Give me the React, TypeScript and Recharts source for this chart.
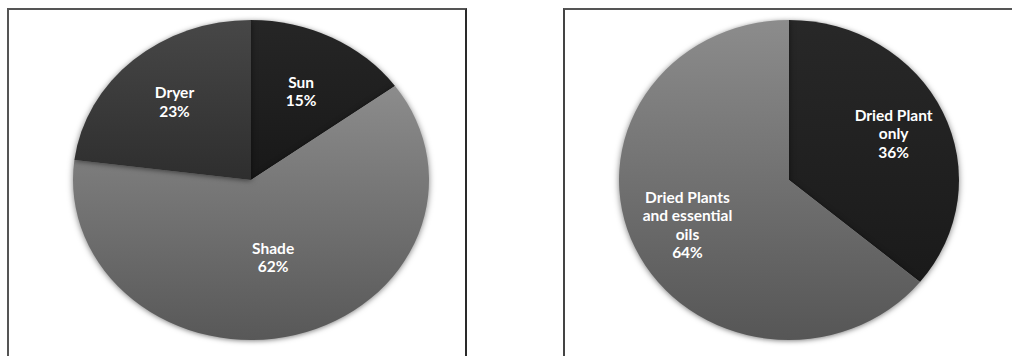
import React from 'react';
import { PieChart, Pie, Cell } from 'recharts';

// Left chart: drying method
const dryingCategories = ['Sun', 'Shade', 'Dryer'];
const dryingValues = [15, 62, 23];
const dryingLabelLines = [['Sun'], ['Shade'], ['Dryer']];

// Right chart: form of use
const useCategories = ['Dried Plant only', 'Dried Plants and essential oils'];
const useValues = [36, 64];
const useLabelLines = [['Dried Plant', 'only'], ['Dried Plants', 'and essential', 'oils']];

const dryingData = dryingCategories.map((name, i) => ({ name, value: dryingValues[i] }));
const useData = useCategories.map((name, i) => ({ name, value: useValues[i] }));

const dryingFills = ['url(#gSun)', 'url(#gShade)', 'url(#gDryer)'];
const useFills = ['url(#gOnly)', 'url(#gOils)'];

const RAD = Math.PI / 180;

const makeLabel = (lines: string[][], values: number[], factors: number[], ratio: number) => (props: any) => {
  const { cx, cy, midAngle, outerRadius, index } = props;
  const r = outerRadius * factors[index];
  const x = cx + r * Math.cos(-midAngle * RAD);
  const y = cy + r * ratio * Math.sin(-midAngle * RAD);
  const all = [...lines[index], `${values[index]}%`];
  const lh = 18.5;
  const y0 = y - ((all.length - 1) * lh) / 2;
  return (
    <text
      x={x}
      y={y0}
      textAnchor="middle"
      fill="#ffffff"
      fontFamily="Lato, 'Liberation Sans', sans-serif"
      fontWeight={700}
      fontSize={15.5}
    >
      {all.map((t, i) => (
        <tspan key={i} x={x} y={y0 + i * lh} dy="0.35em">
          {t}
        </tspan>
      ))}
    </text>
  );
};

const LEFT = { cx: 251, cy: 180, rx: 178, ry: 160 };
const RIGHT = { cx: 789 - 512, cy: 180, rx: 170, ry: 160 };

const css = `
.pieL .recharts-sector { transform-origin: ${LEFT.cx}px ${LEFT.cy}px; transform: scaleY(${LEFT.ry / LEFT.rx}); filter: drop-shadow(0px 1px 3px rgba(0,0,0,0.5)); }
.pieR .recharts-sector { transform-origin: ${RIGHT.cx}px ${RIGHT.cy}px; transform: scaleY(${RIGHT.ry / RIGHT.rx}); filter: drop-shadow(0px 1px 3px rgba(0,0,0,0.5)); }
`;

export default function App() {
  return (
    <div style={{ position: 'absolute', left: 0, top: 0, width: 1012, height: 356, overflow: 'hidden', background: '#fff' }}>
      <style>{css}</style>
      <svg width={0} height={0} style={{ position: 'absolute' }}>
        <defs>
          <linearGradient id="gSun" x1="0" y1="0" x2="0" y2="1">
            <stop offset="0%" stopColor="#262626" />
            <stop offset="100%" stopColor="#181818" />
          </linearGradient>
          <linearGradient id="gDryer" x1="0" y1="0" x2="0" y2="1">
            <stop offset="0%" stopColor="#474747" />
            <stop offset="100%" stopColor="#2e2e2e" />
          </linearGradient>
          <linearGradient id="gShade" x1="0" y1="0" x2="0" y2="1">
            <stop offset="0%" stopColor="#8c8c8c" />
            <stop offset="100%" stopColor="#585858" />
          </linearGradient>
          <linearGradient id="gOnly" x1="0" y1="0" x2="0" y2="1">
            <stop offset="0%" stopColor="#282828" />
            <stop offset="100%" stopColor="#1a1a1a" />
          </linearGradient>
          <linearGradient id="gOils" x1="0" y1="0" x2="0" y2="1">
            <stop offset="0%" stopColor="#8c8c8c" />
            <stop offset="100%" stopColor="#565656" />
          </linearGradient>
        </defs>
      </svg>

      {/* panel frames */}
      <div style={{ position: 'absolute', left: 7, top: 8, width: 456, height: 400, borderLeft: '2px solid #555', borderTop: '2px solid #555', borderRight: '2px solid #2a2a2a' }} />
      <div style={{ position: 'absolute', left: 563, top: 8, width: 460, height: 400, borderLeft: '2px solid #444', borderTop: '2px solid #555' }} />

      <div className="pieL" style={{ position: 'absolute', left: 0, top: 0 }}>
        <PieChart width={500} height={356} margin={{ top: 0, right: 0, bottom: 0, left: 0 }}>
          <Pie
            data={dryingData}
            dataKey="value"
            nameKey="name"
            cx={LEFT.cx}
            cy={LEFT.cy}
            outerRadius={LEFT.rx}
            startAngle={90}
            endAngle={-270}
            stroke="none"
            isAnimationActive={false}
            labelLine={false}
            label={makeLabel(dryingLabelLines, dryingValues, [0.62, 0.5, 0.65], LEFT.ry / LEFT.rx)}
          >
            {dryingData.map((d, i) => (
              <Cell key={d.name} fill={dryingFills[i]} stroke="none" />
            ))}
          </Pie>
        </PieChart>
      </div>

      <div className="pieR" style={{ position: 'absolute', left: 512, top: 0 }}>
        <PieChart width={500} height={356} margin={{ top: 0, right: 0, bottom: 0, left: 0 }}>
          <Pie
            data={useData}
            dataKey="value"
            nameKey="name"
            cx={RIGHT.cx}
            cy={RIGHT.cy}
            outerRadius={RIGHT.rx}
            startAngle={90}
            endAngle={-270}
            stroke="none"
            isAnimationActive={false}
            labelLine={false}
            label={makeLabel(useLabelLines, useValues, [0.68, 0.66], RIGHT.ry / RIGHT.rx)}
          >
            {useData.map((d, i) => (
              <Cell key={d.name} fill={useFills[i]} stroke="none" />
            ))}
          </Pie>
        </PieChart>
      </div>
    </div>
  );
}
